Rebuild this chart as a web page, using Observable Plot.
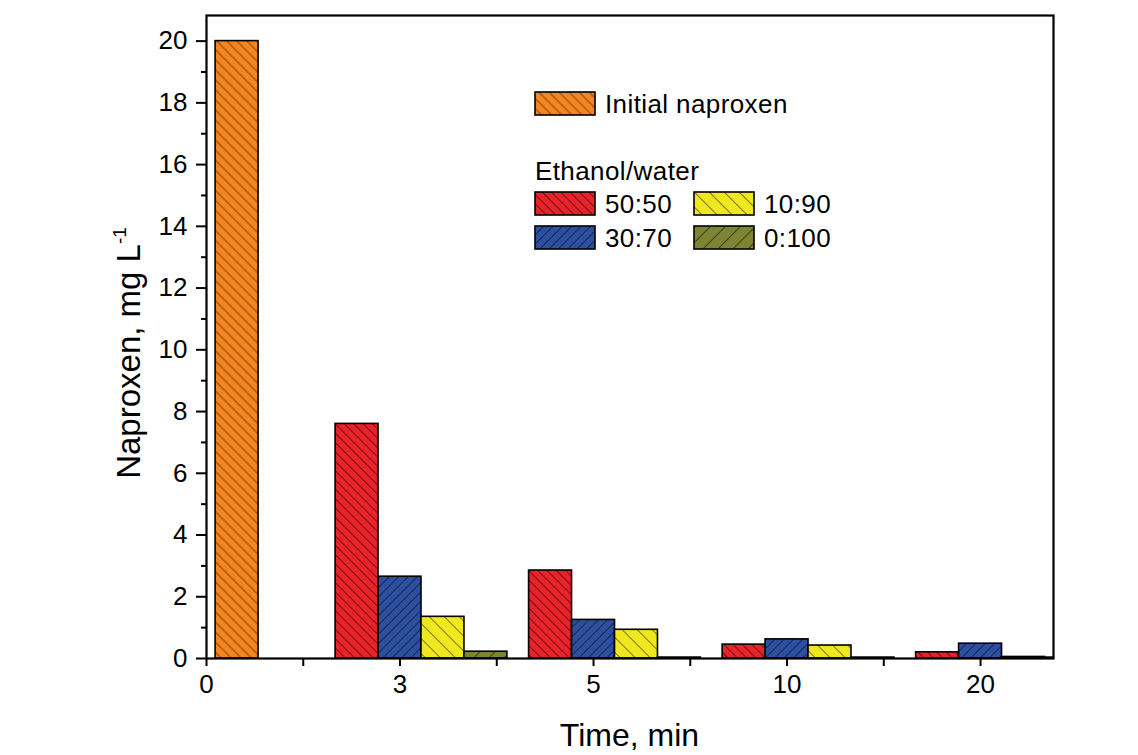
<!DOCTYPE html>
<html>
<head>
<meta charset="utf-8">
<script src="https://cdn.jsdelivr.net/npm/d3@7"></script>
<script src="https://cdn.jsdelivr.net/npm/@observablehq/plot@0.6"></script>
<style>
  html, body { margin: 0; padding: 0; background: #fff; }
  #chart { width: 1138px; height: 755px; }
</style>
</head>
<body>
<div id="chart"></div>
<script>
// ---- data ----
const times = ["0", "3", "5", "10", "20"];
const initialNaproxen = [20.0];               // at time 0
const seriesNames = ["50:50", "30:70", "10:90", "0:100"];
const v50_50 = [null, 7.6, 2.85, 0.45, 0.20];
const v30_70 = [null, 2.65, 1.25, 0.62, 0.48];
const v10_90 = [null, 1.35, 0.93, 0.42, 0.05];
const v0_100 = [null, 0.22, 0.03, 0.03, 0.03];

// ---- styles ----
const colors = {
  initial: "#f5861f",
  "50:50": "#e8222a",
  "30:70": "#2d4fa0",
  "10:90": "#f0e81e",
  "0:100": "#7d8432"
};
const hatch = { // direction and spacing of hatching
  initial: {rot: -45, s: 7.1},
  "50:50": {rot: -45, s: 6.6},
  "30:70": {rot: 45, s: 6.6},
  "10:90": {rot: -45, s: 10.6},
  "0:100": {rot: 45, s: 10.6}
};
const patId = k => "pat-" + k.replace(":", "_");
const fillOf = k => `url(#${patId(k)})`;

const seriesValues = [v50_50, v30_70, v10_90, v0_100];
const rows = [];
seriesNames.forEach((name, si) => {
  seriesValues[si].forEach((v, ti) => {
    if (v != null) rows.push({t: ti, key: name, si, value: v});
  });
});
const initRows = initialNaproxen.map((v, ti) => ({t: ti, key: "initial", value: v}));

const bw = 0.222;                 // bar width in category units
const seriesOffset = si => (si - 1) * bw;   // blue centred on the tick
const initOffset = 0.158;

const W = 1138, H = 755;
const mL = 206, mR = 85, mT = 15, mB = 97;
const font = "'Liberation Sans', Arial, Helvetica, sans-serif";

const plot = Plot.plot({
  width: W,
  height: H,
  marginLeft: mL,
  marginRight: mR,
  marginTop: mT,
  marginBottom: mB,
  style: {fontFamily: font, fontSize: "26px", color: "black", background: "white"},
  x: {type: "linear", domain: [0, 4.377]},
  y: {domain: [0, 20.83]},
  marks: [
    Plot.rect(initRows, {
      x1: d => d.t + initOffset - bw / 2,
      x2: d => d.t + initOffset + bw / 2,
      y1: 0, y2: "value",
      fill: d => fillOf(d.key), stroke: "black", strokeWidth: 1.6, clip: true
    }),
    Plot.rect(rows, {
      x1: d => d.t + seriesOffset(d.si) - bw / 2,
      x2: d => d.t + seriesOffset(d.si) + bw / 2,
      y1: 0, y2: "value",
      fill: d => fillOf(d.key), stroke: "black", strokeWidth: 1.6, clip: true
    }),
    Plot.axisX({
      ticks: d3.range(0, 4.01, 0.5),
      tickFormat: d => Number.isInteger(d) ? times[d] : "",
      tickSize: 8, tickPadding: 8, strokeWidth: 2, fontSize: 26, label: null
    }),
    Plot.axisY({
      ticks: d3.range(0, 21, 2),
      tickSize: 10, tickPadding: 9, strokeWidth: 2, fontSize: 26, label: null
    }),
    Plot.axisY({
      ticks: d3.range(1, 21, 2),
      tickSize: 5, tickFormat: () => "", strokeWidth: 2, label: null
    }),
    Plot.frame({stroke: "black", strokeWidth: 2.2})
  ]
});

// ---- hatch patterns ----
const svg = d3.select(plot);
const defs = svg.insert("defs", ":first-child");
Object.keys(colors).forEach(k => {
  const {rot, s} = hatch[k];
  const p = defs.append("pattern")
    .attr("id", patId(k))
    .attr("patternUnits", "userSpaceOnUse")
    .attr("width", s).attr("height", s)
    .attr("patternTransform", `rotate(${rot})`);
  p.append("rect").attr("width", s).attr("height", s).attr("fill", colors[k]);
  p.append("line")
    .attr("x1", s / 2).attr("x2", s / 2).attr("y1", -1).attr("y2", s + 1)
    .attr("stroke", "#000").attr("stroke-opacity", 0.55).attr("stroke-width", 0.9);
});

// ---- axis titles ----
svg.append("text")
  .attr("x", mL + (W - mL - mR) / 2).attr("y", 746)
  .attr("text-anchor", "middle").attr("font-size", 32).attr("fill", "black")
  .attr("font-family", font)
  .text("Time, min");
const yt = svg.append("text")
  .attr("transform", `translate(140, 353) rotate(-90)`)
  .attr("text-anchor", "middle").attr("font-size", 33).attr("fill", "black")
  .attr("font-family", font);
yt.append("tspan").text("Naproxen, mg L");
yt.append("tspan").attr("dy", -14).attr("font-size", 19).text("-1");

// ---- legend ----
const lg = svg.append("g").attr("font-size", 26).attr("fill", "black")
  .attr("text-anchor", "start").attr("font-family", font)
  .attr("letter-spacing", 0.4);
function swatch(x, y, k, label) {
  lg.append("rect").attr("x", x).attr("y", y).attr("width", 60).attr("height", 23)
    .attr("fill", fillOf(k)).attr("stroke", "black").attr("stroke-width", 1.6);
  lg.append("text").attr("x", x + 70).attr("y", y + 21).text(label);
}
swatch(535, 92, "initial", "Initial naproxen");
lg.append("text").attr("x", 535).attr("y", 180).text("Ethanol/water");
swatch(535, 192, seriesNames[0], seriesNames[0]);
swatch(694, 192, seriesNames[2], seriesNames[2]);
swatch(535, 226, seriesNames[1], seriesNames[1]);
swatch(694, 226, seriesNames[3], seriesNames[3]);

document.getElementById("chart").appendChild(plot);
</script>
</body>
</html>
